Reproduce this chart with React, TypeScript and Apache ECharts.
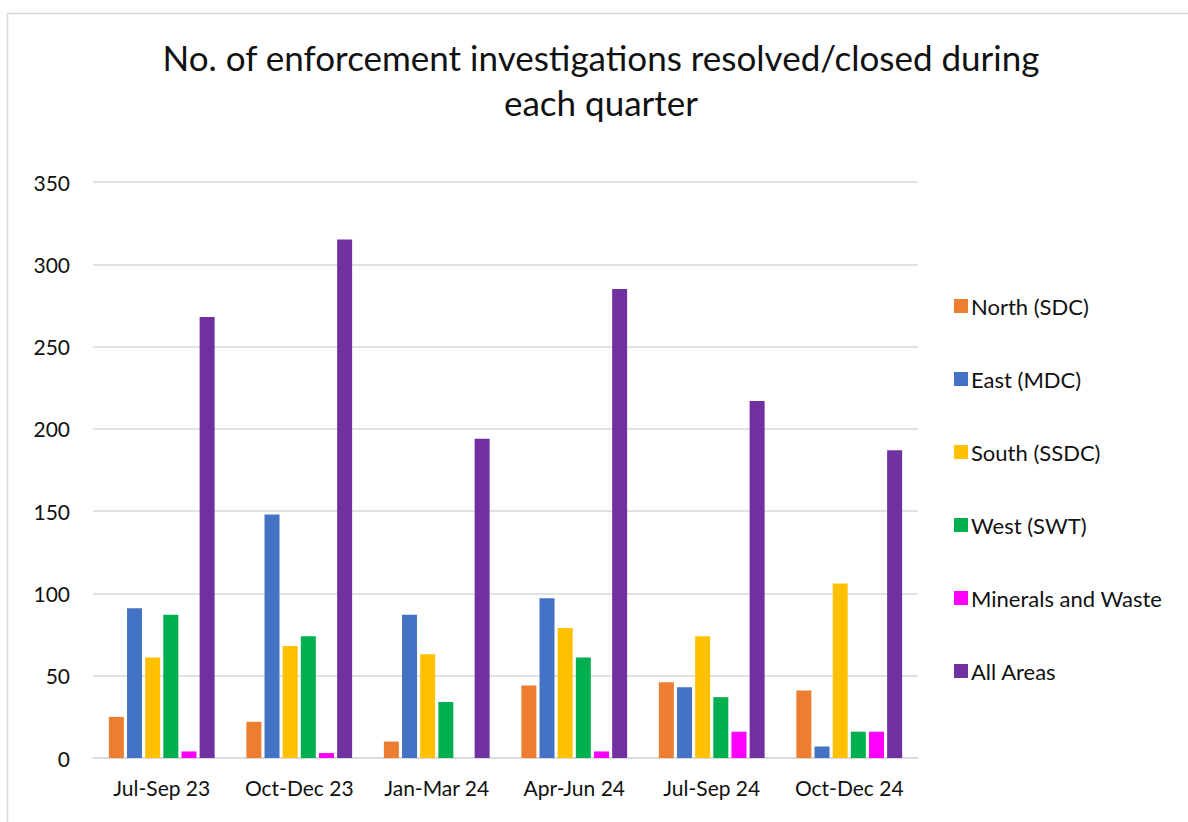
import React, { useEffect, useRef } from "react";
import * as echarts from "echarts";

const categories = ["Jul-Sep 23", "Oct-Dec 23", "Jan-Mar 24", "Apr-Jun 24", "Jul-Sep 24", "Oct-Dec 24"];
const seriesNames = ["North (SDC)", "East (MDC)", "South (SSDC)", "West (SWT)", "Minerals and Waste", "All Areas"];
const north = [25, 22, 10, 44, 46, 41];
const east = [91, 148, 87, 97, 43, 7];
const south = [61, 68, 63, 79, 74, 106];
const west = [87, 74, 34, 61, 37, 16];
const minerals = [4, 3, 0, 4, 16, 16];
const allAreas = [268, 315, 194, 285, 217, 187];
const colors = ["#ED7D31", "#4472C4", "#FFC000", "#00B050", "#FF00FF", "#7030A0"];
const titleText = "No. of enforcement investigations resolved/closed during\neach quarter";

export default function App() {
  const ref = useRef<HTMLDivElement>(null);
  useEffect(() => {
    if (!ref.current) return;
    const chart = echarts.init(ref.current, null, { renderer: "svg" });
    const values = [north, east, south, west, minerals, allAreas];
    const font = "Lato, 'Open Sans', sans-serif";
    chart.setOption({
      animation: false,
      backgroundColor: "#ffffff",
      color: colors,
      title: {
        text: titleText,
        left: 601,
        textAlign: "center",
        top: 34,
        padding: 0,
        textStyle: { fontFamily: font, fontSize: 35, fontWeight: "normal", color: "#111", lineHeight: 45 },
      },
      graphic: [
        {
          type: "rect",
          shape: { x: 7.5, y: 13.5, width: 1200, height: 900 },
          style: { fill: "none", stroke: "#d9d9d9", lineWidth: 1.5 },
          silent: true,
        },
      ],
      legend: {
        orient: "vertical",
        left: 949,
        top: 290,
        itemWidth: 14,
        itemHeight: 14,
        itemGap: 51,
        itemStyle: { borderWidth: 0 },
        icon: "rect",
        textStyle: { fontFamily: font, fontSize: 22, color: "#111", lineHeight: 22, padding: [0, 0, 0, -2] },
        data: seriesNames,
      },
      grid: { left: 93, right: 270, top: 182, bottom: 64 },
      xAxis: {
        type: "category",
        data: categories,
        axisTick: { show: false },
        axisLine: { lineStyle: { color: "#d9d9d9", width: 1.5 } },
        axisLabel: { fontFamily: font, fontSize: 21, color: "#111", margin: 19, interval: 0 },
      },
      yAxis: {
        type: "value",
        min: 0,
        max: 350,
        interval: 50,
        axisLine: { show: false },
        axisTick: { show: false },
        splitLine: { lineStyle: { color: "#d9d9d9", width: 1.5 } },
        axisLabel: { fontFamily: font, fontSize: 21, color: "#111", margin: 23 },
      },
      series: seriesNames.map((name, i) => ({
        name,
        type: "bar",
        data: values[i],
        barWidth: 15,
        barGap: "21%",
        itemStyle: { color: colors[i] },
      })),
    });
    return () => chart.dispose();
  }, []);
  return <div ref={ref} style={{ position: "absolute", left: 0, top: 0, width: 1188, height: 822 }} />;
}
